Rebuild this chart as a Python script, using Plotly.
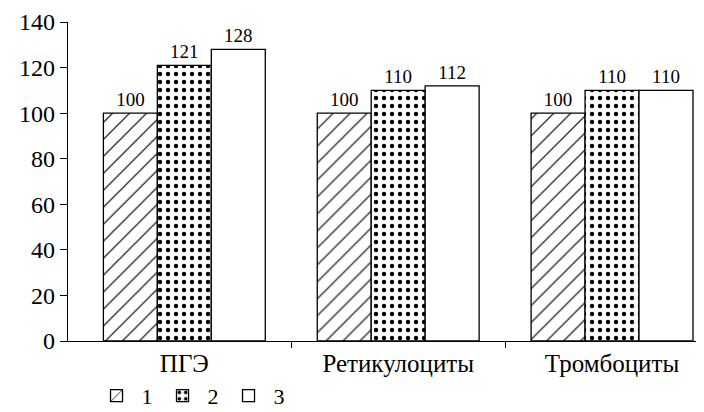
import plotly.graph_objects as go

categories = ["ПГЭ", "Ретикулоциты", "Тромбоциты"]
series_names = ["1", "2", "3"]
values_1 = [100, 100, 100]
values_2 = [121, 110, 110]
values_3 = [128, 112, 110]
y_ticks = [0, 20, 40, 60, 80, 100, 120, 140]

positions = list(range(len(categories)))
boundaries = [i + 0.5 for i in positions[:-1]]

FONT = "Liberation Serif"

fig = go.Figure()
styles = [
    dict(shape="/", size=12, solidity=0.1, fgcolor="black", bgcolor="white"),
    dict(shape=".", size=8, solidity=0.24, fgcolor="black", bgcolor="white"),
    None,
]
for name, vals, pat in zip(series_names, [values_1, values_2, values_3], styles):
    marker = dict(color="white", line=dict(color="black", width=1.3))
    if pat:
        marker["pattern"] = dict(fillmode="replace", **pat)
    fig.add_trace(go.Bar(
        x=positions, y=vals, name=name, marker=marker,
        text=[str(v) for v in vals], textposition="outside",
        textfont=dict(family=FONT, size=19, color="black"),
        cliponaxis=False,
    ))

fig.update_layout(
    width=696, height=404,
    margin=dict(l=60, r=0, t=14, b=71, autoexpand=False),
    paper_bgcolor="white", plot_bgcolor="white",
    barmode="group", bargap=0.243, bargroupgap=0,
    font=dict(family=FONT, size=22, color="black"),
    showlegend=True,
    legend=dict(orientation="h", xref="container", yref="container",
                x=0.12, xanchor="left", y=0.04, yanchor="middle",
                font=dict(family=FONT, size=22), itemwidth=40, tracegroupgap=0),
)
fig.update_xaxes(
    range=[-0.544, 2.43], tickvals=positions, ticktext=categories, ticks="",
    showline=True, linecolor="black", linewidth=1.3, showgrid=False, zeroline=False,
    tickfont=dict(family=FONT, size=25),
    minor=dict(tickvals=boundaries, ticks="outside", ticklen=6, tickcolor="black", tickwidth=1.3, showgrid=False),
)
fig.update_yaxes(
    range=[0, 140], tickvals=y_ticks, ticks="outside", ticklen=7, tickcolor="black", tickwidth=1.3,
    showline=True, linecolor="black", linewidth=1.3, showgrid=False, zeroline=False,
    tickfont=dict(family=FONT, size=24), ticklabeloverflow="allow",
)

fig.write_html("out.html")
